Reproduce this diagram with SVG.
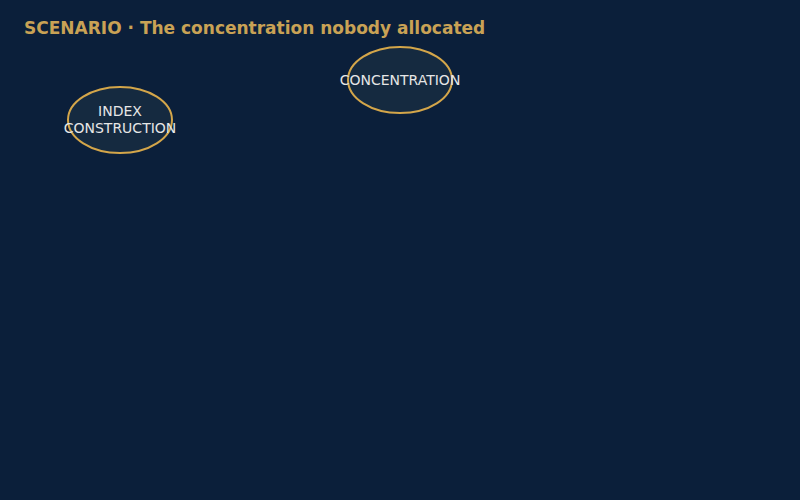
<svg xmlns="http://www.w3.org/2000/svg" width="800" height="500" viewBox="0 0 800 500">
<style>
.title{font-family:"DejaVu Sans",sans-serif;font-weight:bold;font-size:17px;fill:#c9a255}
.node ellipse{fill:#152a40;stroke:#d4a64a;stroke-width:2}
.node text{font-family:"DejaVu Sans",sans-serif;font-size:14px;fill:#e6e6e6;text-anchor:middle}
</style>
<rect width="800" height="500" fill="#0b1f3a"/>
<text class="title" x="24" y="34">SCENARIO · The concentration nobody allocated</text>
<g id="connectors"></g>
<g id="node-index" class="node">
<ellipse cx="120" cy="120" rx="52" ry="33"/>
<text x="120" y="116">INDEX</text>
<text x="120" y="133">CONSTRUCTION</text>
</g>
<g id="node-concentration" class="node">
<ellipse cx="400" cy="80" rx="52" ry="33"/>
<text x="400" y="85">CONCENTRATION</text>
</g>
</svg>
